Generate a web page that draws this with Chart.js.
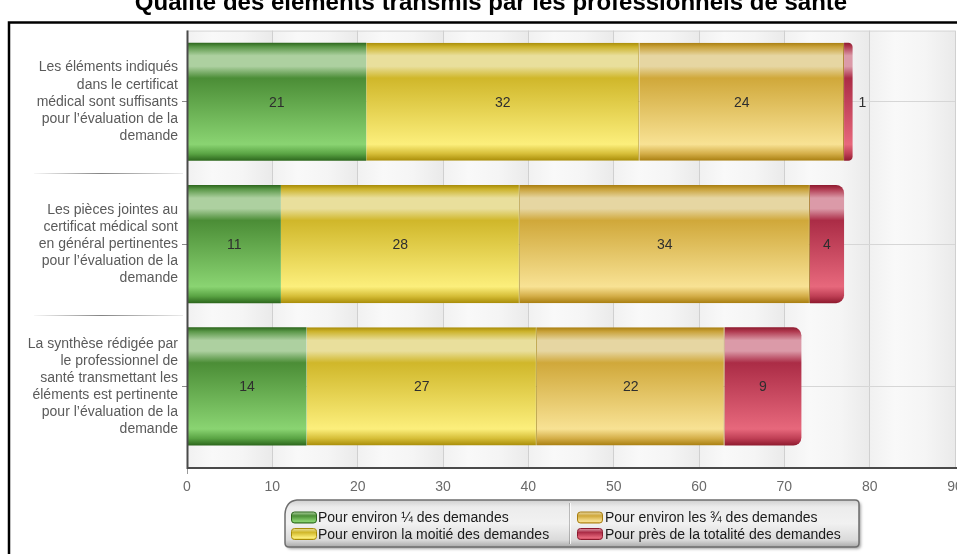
<!DOCTYPE html>
<html lang="fr">
<head>
<meta charset="utf-8">
<title>Qualité des éléments transmis par les professionnels de santé</title>
<script src="https://cdn.jsdelivr.net/npm/chart.js@4.4.1/dist/chart.umd.min.js"></script>
<style>
  html, body { margin: 0; padding: 0; background: #ffffff; overflow: hidden; }
  #wrap { position: relative; width: 957px; height: 554px; }
  canvas { display: block; }
</style>
</head>
<body>
<div id="wrap"><canvas id="chart" width="957" height="554"></canvas></div>
<script>
// ---- Data -------------------------------------------------------------
const chartTitle = "Qualité des éléments transmis par les professionnels de santé";

const categories = [
  ["Les éléments indiqués", "dans le certificat", "médical sont suffisants", "pour l’évaluation de la", "demande"],
  ["Les pièces jointes au", "certificat médical sont", "en général pertinentes", "pour l’évaluation de la", "demande"],
  ["La synthèse rédigée par", "le professionnel de", "santé transmettant les", "éléments est pertinente", "pour l’évaluation de la", "demande"]
];

const seriesNames = [
  "Pour environ ¼ des demandes",
  "Pour environ la moitié des demandes",
  "Pour environ les ¾ des demandes",
  "Pour près de la totalité des demandes"
];

const quart       = [21, 11, 14];
const moitie      = [32, 28, 27];
const troisQuarts = [24, 34, 22];
const totalite    = [1, 4, 9];

const xMin = 0;
const xMax = 90;
const xStep = 10;

// ---- Styles -----------------------------------------------------------
const FONT = "'Liberation Sans', Arial, Helvetica, sans-serif";

const palettes = [
  { edge: '#2c661c', top: '#5a9748', hi: '#add0a0', mid: '#4b8d36', low: '#8ad472', low2: '#5aa444' }, // green
  { edge: '#a88c08', top: '#ccb32c', hi: '#e9df9c', mid: '#d0b72a', low: '#fcef7c', low2: '#d6be38' }, // yellow
  { edge: '#a87e10', top: '#c9a23a', hi: '#e6d6a2', mid: '#d0a83a', low: '#f8e294', low2: '#d4ae48' }, // gold
  { edge: '#8e1a2e', top: '#b03a50', hi: '#db9aa8', mid: '#ab2c46', low: '#e7687c', low2: '#bf3f55' }  // red
];

const barPct = 0.83;

function glossGradient(ctx2d, top, bottom, p) {
  const g = ctx2d.createLinearGradient(0, top, 0, bottom);
  g.addColorStop(0.00, p.edge);
  g.addColorStop(0.035, p.top);
  g.addColorStop(0.11, p.hi);
  g.addColorStop(0.20, p.hi);
  g.addColorStop(0.30, p.mid);
  g.addColorStop(0.86, p.low);
  g.addColorStop(0.94, p.low2);
  g.addColorStop(1.00, p.edge);
  return g;
}

function barFill(i) {
  return (context) => {
    const chart = context.chart;
    const y = chart.scales && chart.scales.y;
    if (!y || !chart.chartArea || context.dataIndex === undefined) return palettes[i].mid;
    const band = Math.abs(y.getPixelForValue(1) - y.getPixelForValue(0));
    const c = y.getPixelForValue(context.dataIndex);
    const h = band * barPct / 2;
    return glossGradient(chart.ctx, c - h, c + h, palettes[i]);
  };
}

// ---- Drawing helpers (plugin) ----------------------------------------
const AXIS_Y = 468;   // pixel row of the horizontal axis line

const decorations = {
  id: 'decorations',
  beforeDraw(chart) {
    const { ctx, chartArea: a, scales: { x } } = chart;
    ctx.save();
    ctx.fillStyle = '#ffffff';
    ctx.fillRect(0, 0, chart.width, chart.height);

    // outer frame
    ctx.strokeStyle = '#000000';
    ctx.lineWidth = 2.5;
    ctx.strokeRect(9, 22.5, chart.width + 20, chart.height + 20);

    // plot background: softly shaded columns between grid lines
    for (let v = xMin; v < xMax; v += xStep) {
      const x0 = x.getPixelForValue(v), x1 = x.getPixelForValue(v + xStep);
      const g = ctx.createLinearGradient(x0, 0, x1, 0);
      g.addColorStop(0, '#f1f1f1');
      g.addColorStop(0.3, '#f9f9f9');
      g.addColorStop(0.65, '#f5f5f5');
      g.addColorStop(1, '#eaeaea');
      ctx.fillStyle = g;
      ctx.fillRect(x0, a.top, x1 - x0, AXIS_Y - a.top);
    }
    ctx.strokeStyle = '#d6d6d6';
    ctx.lineWidth = 1;
    ctx.beginPath();
    ctx.moveTo(a.left, a.top + 0.5);
    ctx.lineTo(a.right, a.top + 0.5);
    ctx.stroke();

    // separators between category labels
    const y = chart.scales.y;
    for (let i = 0; i < categories.length - 1; i++) {
      const yy = Math.round((y.getPixelForValue(i) + y.getPixelForValue(i + 1)) / 2) + 0.5;
      const g = ctx.createLinearGradient(34, 0, 183, 0);
      g.addColorStop(0, 'rgba(90,90,90,0.05)');
      g.addColorStop(0.45, 'rgba(80,80,80,0.7)');
      g.addColorStop(1, 'rgba(90,90,90,0.12)');
      ctx.strokeStyle = g;
      ctx.beginPath();
      ctx.moveTo(34, yy);
      ctx.lineTo(183, yy);
      ctx.stroke();
    }
    ctx.restore();
  },
  afterDatasetsDraw(chart) {
    const { ctx } = chart;
    ctx.save();
    ctx.font = '14px ' + FONT;
    ctx.fillStyle = '#2e2e2e';
    ctx.textBaseline = 'middle';
    chart.data.datasets.forEach((ds, i) => {
      const meta = chart.getDatasetMeta(i);
      meta.data.forEach((el, j) => {
        const w = Math.abs(el.x - el.base);
        const text = String(ds.data[j]);
        if (w < 16) {
          ctx.textAlign = 'left';
          ctx.fillText(text, el.x + 6, el.y + 1);
        } else {
          ctx.textAlign = 'center';
          ctx.fillText(text, (el.x + el.base) / 2, el.y + 1);
        }
      });
    });
    ctx.restore();
  },
  afterDraw(chart) {
    const { ctx, chartArea: a } = chart;
    ctx.save();

    // axis lines
    ctx.strokeStyle = '#4a4a4a';
    ctx.lineWidth = 2;
    ctx.beginPath();
    ctx.moveTo(a.left + 0.5, a.top);
    ctx.lineTo(a.left + 0.5, AXIS_Y + 1);
    ctx.moveTo(a.left - 0.5, AXIS_Y);
    ctx.lineTo(chart.width, AXIS_Y);
    ctx.stroke();
    ctx.strokeStyle = '#9a9a9a';
    ctx.lineWidth = 1;
    ctx.beginPath();
    ctx.moveTo(a.left + 0.5, AXIS_Y + 1);
    ctx.lineTo(a.left + 0.5, AXIS_Y + 6);
    ctx.stroke();

    // title (partly above the top edge)
    ctx.font = 'bold 24px ' + FONT;
    ctx.fillStyle = '#000000';
    ctx.textAlign = 'center';
    ctx.textBaseline = 'alphabetic';
    ctx.fillText(chartTitle, 491, 10);

    drawLegend(chart);
    ctx.restore();
  }
};

function roundRect(ctx, x, y, w, h, r) {
  ctx.beginPath();
  ctx.moveTo(x + r, y);
  ctx.lineTo(x + w - r, y);
  ctx.quadraticCurveTo(x + w, y, x + w, y + r);
  ctx.lineTo(x + w, y + h - r);
  ctx.quadraticCurveTo(x + w, y + h, x + w - r, y + h);
  ctx.lineTo(x + r, y + h);
  ctx.quadraticCurveTo(x, y + h, x, y + h - r);
  ctx.lineTo(x, y + r);
  ctx.quadraticCurveTo(x, y, x + r, y);
  ctx.closePath();
}

function drawLegend(chart) {
  const ctx = chart.ctx;
  const L = { x: 285, y: 500, w: 574, h: 47 };

  // box with chamfered top-left corner and soft shadow
  ctx.save();
  ctx.beginPath();
  ctx.moveTo(L.x + 12, L.y);
  ctx.lineTo(L.x + L.w - 4, L.y);
  ctx.quadraticCurveTo(L.x + L.w, L.y, L.x + L.w, L.y + 4);
  ctx.lineTo(L.x + L.w, L.y + L.h - 4);
  ctx.quadraticCurveTo(L.x + L.w, L.y + L.h, L.x + L.w - 4, L.y + L.h);
  ctx.lineTo(L.x + 4, L.y + L.h);
  ctx.quadraticCurveTo(L.x, L.y + L.h, L.x, L.y + L.h - 4);
  ctx.lineTo(L.x, L.y + 14);
  ctx.quadraticCurveTo(L.x + 1, L.y + 1, L.x + 12, L.y);
  ctx.closePath();
  const g = ctx.createLinearGradient(0, L.y, 0, L.y + L.h);
  g.addColorStop(0, '#cfcfcf');
  g.addColorStop(0.15, '#ececec');
  g.addColorStop(0.5, '#f1f1f1');
  g.addColorStop(0.85, '#dadada');
  g.addColorStop(1, '#a9a9a9');
  ctx.shadowColor = 'rgba(0,0,0,0.35)';
  ctx.shadowOffsetX = 2;
  ctx.shadowOffsetY = 2;
  ctx.shadowBlur = 3;
  ctx.fillStyle = g;
  ctx.fill();
  ctx.shadowColor = 'transparent';
  ctx.strokeStyle = '#6e6e6e';
  ctx.lineWidth = 1.5;
  ctx.stroke();
  ctx.restore();

  // column divider
  const divX = 569.5;
  ctx.strokeStyle = 'rgba(0,0,0,0.22)';
  ctx.lineWidth = 1;
  ctx.beginPath();
  ctx.moveTo(divX, L.y + 3);
  ctx.lineTo(divX, L.y + L.h - 3);
  ctx.stroke();
  ctx.strokeStyle = 'rgba(255,255,255,0.8)';
  ctx.beginPath();
  ctx.moveTo(divX + 1, L.y + 3);
  ctx.lineTo(divX + 1, L.y + L.h - 3);
  ctx.stroke();

  // items, filled column by column
  const rows = [517.5, 534];
  const cols = [{ sw: 291, tx: 318 }, { sw: 577, tx: 605 }];
  chart.data.datasets.forEach((ds, i) => {
    const col = cols[Math.floor(i / 2)];
    const cy = rows[i % 2];
    const p = palettes[i];
    roundRect(ctx, col.sw + 0.5, cy - 5.5, 25, 11, 3);
    const sg = ctx.createLinearGradient(0, cy - 5.5, 0, cy + 5.5);
    sg.addColorStop(0, p.hi);
    sg.addColorStop(0.35, p.mid);
    sg.addColorStop(0.85, p.low);
    sg.addColorStop(1, p.low2);
    ctx.fillStyle = sg;
    ctx.fill();
    ctx.strokeStyle = p.edge;
    ctx.lineWidth = 1;
    ctx.stroke();

    ctx.font = '14px ' + FONT;
    ctx.fillStyle = '#1a1a1a';
    ctx.textAlign = 'left';
    ctx.textBaseline = 'middle';
    ctx.fillText(ds.label, col.tx, cy + 1);
  });
}

// ---- Chart ------------------------------------------------------------
const seriesValues = [quart, moitie, troisQuarts, totalite];

new Chart(document.getElementById('chart'), {
  type: 'bar',
  data: {
    labels: categories,
    datasets: seriesValues.map((vals, i) => ({
      label: seriesNames[i],
      data: vals,
      backgroundColor: barFill(i),
      borderWidth: (i === 1 || i === 2) ? { right: 1 } : 0,
      borderColor: i === 1 ? 'rgba(170,135,10,0.9)' : 'rgba(160,110,20,0.9)',
      borderRadius: i === 3 ? 8 : 0,
      borderSkipped: 'start',
      barPercentage: barPct,
      categoryPercentage: 1
    }))
  },
  options: {
    indexAxis: 'y',
    responsive: false,
    animation: false,
    devicePixelRatio: 1,
    layout: { padding: { top: 30.6, bottom: 56.4, left: 0, right: 2 } },
    plugins: {
      legend: { display: false },
      title: { display: false },
      tooltip: { enabled: false }
    },
    scales: {
      x: {
        stacked: true,
        min: xMin,
        max: xMax,
        ticks: {
          stepSize: xStep,
          color: '#6a6a6a',
          font: { family: FONT, size: 14 },
          padding: 11,
          maxRotation: 0
        },
        grid: { color: '#d0d0d0', lineWidth: 1, drawTicks: true, tickLength: 10.5 },
        border: { display: false },
        afterFit(scale) {
          scale.height = 40;
          scale.paddingLeft = 0;
          scale.paddingRight = 0;
        }
      },
      y: {
        stacked: true,
        ticks: {
          color: '#5a5a5a',
          font: { family: FONT, size: 14, lineHeight: 1.22 },
          padding: 4,
          autoSkip: false
        },
        grid: { color: '#d6d6d6', offset: false, drawTicks: true, tickLength: 5, tickColor: '#8a8a8a' },
        border: { display: false },
        afterFit(scale) {
          scale.width = 187;
          scale.paddingTop = 0;
          scale.paddingBottom = 0;
        }
      }
    }
  },
  plugins: [decorations]
});
</script>
</body>
</html>
